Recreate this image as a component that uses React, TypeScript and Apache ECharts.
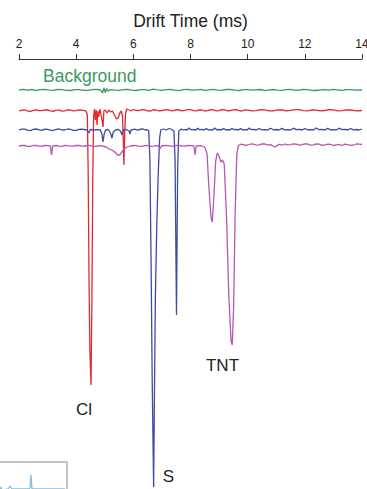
import React, { useEffect, useRef } from "react";
import * as echarts from "echarts";

// Drift time axis
const xTicks = [2, 4, 6, 8, 10, 12, 14];

// Vertical offsets of each trace (arbitrary intensity units)
const offsets = { background: -31, chloride: -52, sulfur: -71, tnt: -87 };

// [drift time (ms), relative intensity]
const backgroundTrace = [
  [2.0, 0], [2.15, 0.6], [2.3, -0.2], [2.45, 0.5], [2.6, -0.4], [2.75, 0.3], [2.9, 0.6], [3.05, -0.2],
  [3.2, -0.3], [3.35, 0.5], [3.5, 0.4], [3.65, -0.3], [3.8, -0.5], [3.95, 0.4], [4.1, 0.3], [4.25, -0.3],
  [4.4, -0.4], [4.55, 0.4], [4.7, 0.5], [4.85, 0.2], [4.92, -3], [4.97, 2], [5.02, -2.5], [5.07, 1.5], [5.12, -1],
  [5.2, 0.4], [5.35, -0.2], [5.5, -0.3], [5.65, 0.4], [5.8, 0.6], [5.95, -0.2], [6.1, -0.5], [6.25, 0.4],
  [6.4, 0.3], [6.55, -0.3], [6.7, 0.8], [6.85, 0.1], [7.0, -0.4], [7.15, 0.4], [7.3, 0.5], [7.45, -0.1],
  [7.6, -0.6], [7.75, 0.3], [7.9, 0.7], [8.05, -0.2], [8.2, 0.2], [8.35, 0.6], [8.5, -0.4], [8.65, 0.2],
  [8.8, 0.6], [8.95, -0.1], [9.1, -0.3], [9.25, 0.5], [9.4, 0.5], [9.55, -0.2], [9.7, -0.5], [9.85, 0.3],
  [10.0, 0.4], [10.15, -0.2], [10.3, 0.2], [10.45, 0.5], [10.6, -0.6], [10.75, 0.1], [10.9, 0.5],
  [11.05, -0.2], [11.2, -0.3], [11.35, 0.4], [11.5, 0.6], [11.65, -0.1], [11.8, -0.2], [11.95, 0.5],
  [12.1, 0.4], [12.25, -0.3], [12.4, -0.5], [12.55, 0.2], [12.7, 0.3], [12.85, -0.2], [13.0, 0.6],
  [13.15, 0.1], [13.3, -0.4], [13.45, 0.4], [13.6, 0.3], [13.8, -0.2], [14.0, 0],
];

const chlorideTrace = [
  [2.0, 0], [2.1, 0.9], [2.2, 1], [2.3, 0.1], [2.4, -0.5], [2.5, 0.7], [2.6, 1.2], [2.7, 0.4], [2.8, 0.3],
  [2.9, 1.1], [3.0, 1], [3.1, 0.2], [3.2, -0.3], [3.3, 0.9], [3.4, 0.8], [3.5, -0.1], [3.6, 0.2],
  [3.7, 1.2], [3.8, 1], [3.9, 0.1], [4.0, 0.4], [4.1, 1.1], [4.2, 0.8], [4.34, 0.2], [4.39, -4],
  [4.42, -60], [4.45, -170], [4.48, -240], [4.52, -274], [4.55, -190], [4.58, -70], [4.61, -6],
  [4.64, 2], [4.67, -9], [4.7, 1], [4.73, -14], [4.76, 0], [4.79, -6], [4.83, 2], [4.87, -4],
  [4.91, -10], [4.94, -16], [4.97, 0], [5.02, 1], [5.08, -2], [5.14, 1], [5.2, -1], [5.27, 0],
  [5.34, -4], [5.41, -8], [5.47, -7], [5.53, -2], [5.58, 0], [5.62, -5], [5.65, -30], [5.67, -54],
  [5.7, -20], [5.73, -2], [5.77, 2], [5.85, 1], [5.93, 0.2], [6.0, 1.5], [6.1, 0.6], [6.2, 0.5],
  [6.3, 1.4], [6.4, 1.2], [6.5, 0.2], [6.6, 0], [6.7, 1.1], [6.8, 1], [6.9, 0.1], [7.0, 0.5],
  [7.1, 1.2], [7.2, 1.3], [7.3, 0.3], [7.4, 0.2], [7.5, 1.3], [7.6, 1], [7.7, 0.2], [7.8, 0.6],
  [7.9, 1.3], [8.0, 1.4], [8.1, 0.4], [8.2, 0.2], [8.3, 1.2], [8.4, 1], [8.5, 0], [8.6, 0.4],
  [8.7, 1.3], [8.8, 1.2], [8.9, 0.2], [9.0, 0.3], [9.1, 1.4], [9.2, 1.1], [9.3, 0.1], [9.4, 0.5],
  [9.5, 1.2], [9.6, 1.3], [9.7, 0.3], [9.8, 0], [9.9, 1.1], [10.0, 0.9], [10.15, 0.1], [10.3, 0.4],
  [10.45, 1.4], [10.6, 1.2], [10.75, 0.2], [10.9, 0.2], [11.05, 1.2], [11.2, 1], [11.35, 0.1],
  [11.5, 0.6], [11.65, 1.4], [11.8, 1.3], [11.95, 0.3], [12.1, 0.1], [12.25, 1.1], [12.4, 0.9],
  [12.55, 0.1], [12.7, 0.5], [12.85, 1.3], [13.0, 1.2], [13.15, 0.2], [13.3, 0.3], [13.45, 1.2],
  [13.6, 1], [13.8, 0.2], [14.0, 0.5],
];

const sulfurTrace = [
  [2.0, 0], [2.1, 0.9], [2.2, 0.8], [2.3, -0.2], [2.4, -0.6], [2.5, 0.6], [2.6, 1], [2.7, 0.2],
  [2.8, -0.3], [2.9, 0.9], [3.0, 0.7], [3.1, -0.2], [3.2, -0.5], [3.3, 0.6], [3.4, 1], [3.5, 0.1],
  [3.6, 0], [3.7, 1], [3.8, 0.6], [3.9, -0.3], [4.0, -0.4], [4.1, 0.7], [4.2, 0.8], [4.38, 0],
  [4.44, -3], [4.5, 0.5], [4.6, -0.2], [4.7, 0.3], [4.85, 0], [4.9, -4], [4.94, -12], [4.98, -4],
  [5.03, 0], [5.12, 0.5], [5.2, -3], [5.25, -8], [5.3, -2], [5.38, 0], [5.46, 0.6], [5.55, -1],
  [5.6, -5], [5.65, 0], [5.75, 0.5], [5.85, -1], [5.88, -4], [5.92, 0], [6.05, 0.8], [6.12, 0],
  [6.2, 0.2], [6.28, 1.2], [6.35, 0.9], [6.42, 0], [6.48, 0.3], [6.54, -1], [6.58, -30],
  [6.62, -130], [6.66, -250], [6.71, -357], [6.74, -260], [6.77, -170], [6.82, -95], [6.87, -45],
  [6.92, -8], [6.96, 0], [7.05, 1], [7.15, 0], [7.25, 1.5], [7.35, 0.5], [7.42, -1], [7.46, -30],
  [7.51, -185], [7.55, -40], [7.59, -1], [7.68, 1], [7.74, 0], [7.8, 0.5], [7.88, 0], [7.95, 2],
  [8.02, 0.3], [8.1, 0.4], [8.18, 0], [8.25, 1.8], [8.32, 0.2], [8.4, 0.6], [8.48, 0], [8.55, 1.5],
  [8.62, 0.1], [8.7, 0.3], [8.78, 0], [8.85, 2], [8.92, 0.2], [9.0, 0.5], [9.08, 0], [9.15, 1.6],
  [9.22, 0.2], [9.3, 0.4], [9.38, 0], [9.45, 1.8], [9.52, 0.3], [9.6, 0.6], [9.68, 0], [9.75, 1.5],
  [9.82, 0.1], [9.9, 0.3], [9.98, 0], [10.05, 2], [10.12, 0.3], [10.2, 0.6], [10.3, 0], [10.4, 1.5],
  [10.5, 0.2], [10.6, 0.4], [10.7, 0], [10.8, 1.8], [10.9, 0.2], [11.0, 0.5], [11.1, 0], [11.2, 1.6],
  [11.3, 0.2], [11.4, 0.4], [11.5, 0], [11.6, 1.8], [11.7, 0.3], [11.8, 0.6], [11.9, 0], [12.0, 1.5],
  [12.1, 0.2], [12.2, 0.3], [12.3, 0], [12.4, 2], [12.5, 0.3], [12.6, 0.5], [12.7, 0], [12.8, 1.6],
  [12.9, 0.2], [13.0, 0.4], [13.1, 0], [13.2, 1.8], [13.3, 0.3], [13.4, 0.6], [13.5, 0], [13.6, 1.5],
  [13.7, 0.2], [13.8, 0.5], [13.9, 0], [14.0, 1],
];

const tntTrace = [
  [2.0, 0], [2.1, 0.5], [2.2, 0.5], [2.3, -0.3], [2.4, -0.4], [2.5, 0.5], [2.6, 0.6], [2.7, -0.1],
  [2.8, -0.2], [2.9, 0.5], [3.0, 0.4], [3.1, 0], [3.14, -9], [3.18, 0], [3.3, 0.5], [3.4, -0.1],
  [3.5, -0.3], [3.6, 0.5], [3.7, 0.4], [3.8, -0.2], [3.9, -0.2], [4.0, 0.5], [4.1, 0.5], [4.2, -0.2],
  [4.3, 0], [4.4, 0.5], [4.5, 0.4], [4.6, -0.2], [4.7, -0.3], [4.8, 0.4], [4.9, 0.2], [5.05, -1],
  [5.15, -3], [5.25, -4], [5.35, -6], [5.45, -9], [5.52, -9], [5.6, -6], [5.68, -3], [5.78, -1],
  [5.9, 0], [6.0, 0.5], [6.1, 0.4], [6.2, -0.2], [6.3, -0.3], [6.4, 0.4], [6.5, 0.3], [6.6, -0.3],
  [6.7, -0.2], [6.8, 0.4], [6.88, 0], [6.93, -3], [6.98, 0], [7.1, 0.5], [7.2, 0.4], [7.3, -0.2],
  [7.4, -0.2], [7.5, 0.6], [7.6, 0.5], [7.7, -0.2], [7.8, 0], [7.9, 0.5], [8.0, 0.4], [8.12, 0],
  [8.16, -9], [8.2, 0], [8.35, 0.4], [8.5, -1], [8.58, -8], [8.64, -40], [8.72, -72], [8.76, -76],
  [8.82, -50], [8.88, -15], [8.94, -7], [9.0, -10], [9.06, -16], [9.12, -14], [9.18, -18],
  [9.26, -70], [9.34, -150], [9.42, -195], [9.46, -199], [9.51, -160], [9.56, -70], [9.62, -8],
  [9.68, 0.5], [9.76, 1.8], [9.85, 1.4], [9.92, 0.6], [10.0, 1], [10.1, 2], [10.2, 1.8], [10.3, 0.8],
  [10.4, 1.2], [10.5, 2.1], [10.6, 2], [10.7, 0.9], [10.8, 1.4], [10.95, -1], [11.1, 1.6],
  [11.2, 0.9], [11.3, 2], [11.4, 1.1], [11.5, 1.3], [11.6, 2.1], [11.7, 1.9], [11.8, 0.8],
  [11.9, 1.4], [12.0, 2.2], [12.1, 2], [12.2, 0.9], [12.3, 1.2], [12.4, 2], [12.5, 1.8], [12.6, 0.6],
  [12.7, 1], [12.8, 1.9], [12.9, 1.6], [13.0, 0.5], [13.1, 1.2], [13.2, 1.6], [13.3, 0.5],
  [13.4, 1.8], [13.5, 1.4], [13.6, 0.6], [13.7, 1], [13.8, 2], [13.9, 1.8], [14.0, 1.5],
];

// partial inset spectrum in the bottom-left corner
const insetTrace = [
  [0, 12], [2, 12], [3, 15], [4, 12], [10, 13], [12, 16], [14, 13], [30, 13], [32, 14], [33, 27],
  [34, 13], [40, 13], [67, 13],
];

const shift = (trace: number[][], off: number) => trace.map(([t, v]) => [t, v + off]);

export default function App() {
  const ref = useRef<HTMLDivElement>(null);
  useEffect(() => {
    if (!ref.current) return;
    const chart = echarts.init(ref.current, undefined, { renderer: "svg" });
    const font = "Liberation Sans, Arial, sans-serif";
    const lineSeries = (name: string, data: number[][], color: string) => ({
      name,
      type: "line",
      data,
      showSymbol: false,
      symbol: "none",
      lineStyle: { color, width: 1.3 },
      xAxisIndex: 0,
      yAxisIndex: 0,
      silent: true,
    });
    chart.setOption({
      animation: false,
      backgroundColor: "#ffffff",
      textStyle: { fontFamily: font },
      grid: [
        { left: 19, right: 5, top: 59, height: 432, outerBoundsMode: "none" },
        {
          left: -2, top: 462, width: 69, height: 40, show: true, borderColor: "#c4c4c4", borderWidth: 2,
          backgroundColor: "#ffffff", outerBoundsMode: "none",
        },
      ],
      xAxis: [
        {
          type: "value",
          gridIndex: 0,
          position: "top",
          min: xTicks[0],
          max: xTicks[xTicks.length - 1],
          interval: 2,
          name: "Drift Time (ms)",
          nameLocation: "middle",
          nameGap: 29,
          nameTextStyle: { fontSize: 17.5, color: "#222", fontFamily: font },
          axisLine: { show: true, lineStyle: { color: "#333", width: 1 } },
          axisTick: { show: true, length: 5, lineStyle: { color: "#333" } },
          axisLabel: { fontSize: 12, color: "#222", margin: 9, fontFamily: font },
          splitLine: { show: false },
        },
        { type: "value", gridIndex: 1, min: 0, max: 69, show: false },
      ],
      yAxis: [
        { type: "value", gridIndex: 0, min: -432, max: 0, show: false },
        { type: "value", gridIndex: 1, min: 0, max: 40, show: false },
      ],
      series: [
        lineSeries("Background", shift(backgroundTrace, offsets.background), "#3a9a5c"),
        lineSeries("Cl", shift(chlorideTrace, offsets.chloride), "#e2292f"),
        lineSeries("S", shift(sulfurTrace, offsets.sulfur), "#3c4c9e"),
        lineSeries("TNT", shift(tntTrace, offsets.tnt), "#b458b4"),
        {
          name: "inset",
          type: "line",
          data: insetTrace,
          xAxisIndex: 1,
          yAxisIndex: 1,
          showSymbol: false,
          symbol: "none",
          lineStyle: { color: "#86bde0", width: 1.3 },
          silent: true,
        },
      ],
      graphic: [
        { type: "text", left: 43, top: 67, style: { text: "Background", fontSize: 17.5, fill: "#3a9a5c", fontFamily: font } },
        { type: "text", x: 84, y: 409, style: { text: "Cl", fontSize: 17, fill: "#222", fontFamily: font, align: "center", verticalAlign: "middle" } },
        { type: "text", x: 168.5, y: 476, style: { text: "S", fontSize: 17, fill: "#222", fontFamily: font, align: "center", verticalAlign: "middle" } },
        { type: "text", x: 222.5, y: 365, style: { text: "TNT", fontSize: 17, fill: "#222", fontFamily: font, align: "center", verticalAlign: "middle" } },
      ],
    });
    return () => chart.dispose();
  }, []);
  return (
    <div
      ref={ref}
      style={{ position: "absolute", left: 0, top: 0, width: 367, height: 489, background: "#fff" }}
    />
  );
}
